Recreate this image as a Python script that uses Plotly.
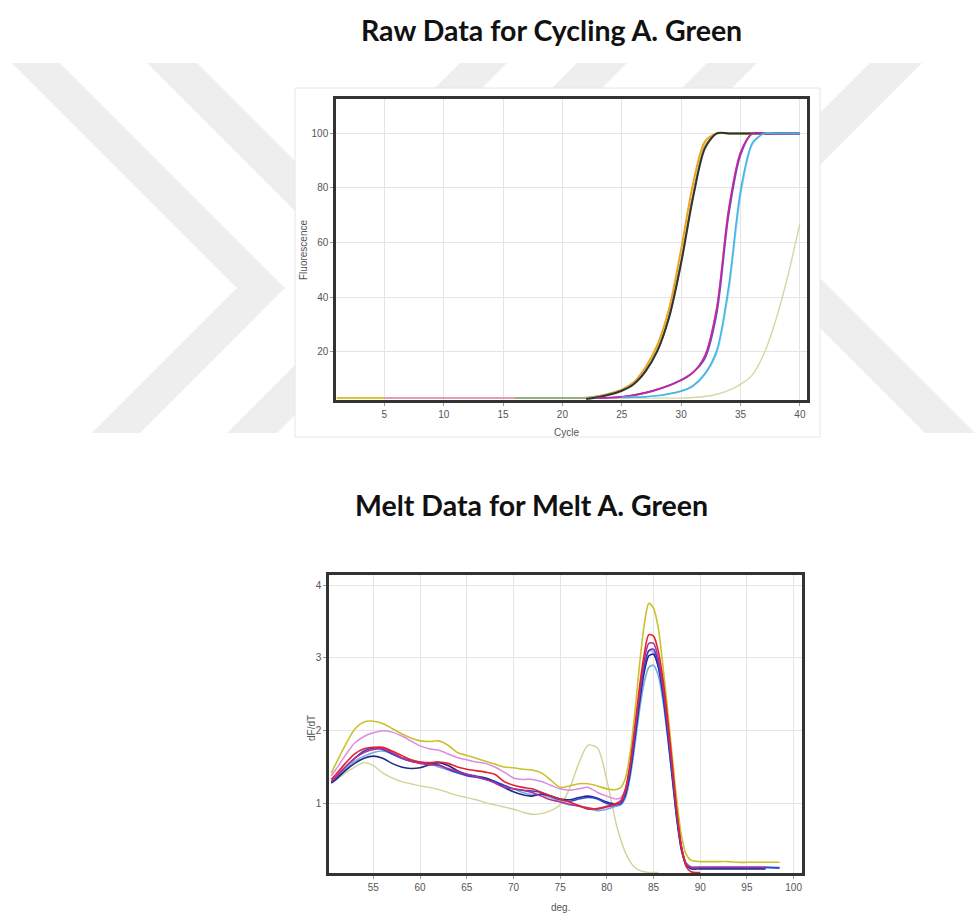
import plotly.graph_objects as go

W, H = 978, 916

# ---------------- Raw data (amplification) ----------------
cycles = list(range(1, 41))
N = None
amp_beige = [3.0]*29 + [3.0, 3.2, 3.6, 4.4, 5.8, 8.0, 11.5, 19.5, 32, 48, 67]
amp_orange = [3.0]*21 + [3.1, 3.7, 4.7, 6.1, 8.8, 14.3, 22.5, 36, 57.5, 81.5, 97] + [100]*8
amp_yellow = [3.0]*21 + [3.1, 3.6, 4.5, 5.8, 8.3, 13.3, 21, 33.5, 53.5, 77.5, 95.5] + [100]*8
amp_pink = [N]*4 + [3.0]*18 + [3.0, 3.1, 3.4, 4.0, 4.9, 6.2, 7.7, 9.6, 12.5, 18.5, 36, 72, 93] + [100]*5
amp_green = [N]*15 + [3.0]*7 + [3.6, 4.5, 5.8, 8.2, 13, 20.5, 33, 53, 77, 95] + [100]*8
amp_black = [N]*21 + [2.7, 3.3, 4.3, 5.7, 8.1, 12.8, 20.3, 32.8, 52.5, 76.5, 94.5] + [100]*8
amp_purple = [N]*22 + [3.0, 3.2, 3.5, 4.1, 5.0, 6.2, 7.7, 9.6, 12.4, 17.5, 34, 70, 92] + [100]*5
amp_magenta = [N]*22 + [3.0, 3.1, 3.4, 4.0, 4.9, 6.1, 7.6, 9.5, 12.3, 18.5, 36, 72, 93] + [100]*5
amp_lightblue = [N]*24 + [3.2, 3.3, 3.5, 3.8, 4.5, 5.5, 7.3, 11.5, 19.5, 42, 77, 96] + [100]*4
amp_cyan = [N]*24 + [3.2, 3.3, 3.5, 3.9, 4.6, 5.6, 7.6, 12, 20.5, 44, 79, 96.5] + [100]*4

amp_series = [
    ("beige", amp_beige, "#d9d4a6", 1.4),
    ("orange", amp_orange, "#f2a11f", 2.0),
    ("yellow", amp_yellow, "#d6cc35", 1.8),
    ("pink", amp_pink, "#e39ac6", 1.8),
    ("green", amp_green, "#8fb07c", 1.8),
    ("black", amp_black, "#333333", 2.0),
    ("purple", amp_purple, "#6a4cc0", 1.6),
    ("magenta", amp_magenta, "#c8249e", 1.6),
    ("lightblue", amp_lightblue, "#8fcbe6", 1.4),
    ("cyan", amp_cyan, "#3fb6e6", 1.5),
]
cycle_ticks = [5, 10, 15, 20, 25, 30, 35, 40]
fluor_ticks = [20, 40, 60, 80, 100]

# ---------------- Melt data ----------------
temps = [50.5, 51, 52, 53, 54, 55, 56, 57, 58, 59, 60, 61, 62, 63, 64, 65, 66, 67, 68, 69, 70,
         71, 72, 73, 74, 75, 76, 77, 78, 79, 80, 81, 81.5, 82, 82.5, 83, 83.5, 84, 84.5, 85,
         85.5, 86, 86.5, 87, 87.5, 88, 88.5, 89, 90, 91, 92, 93, 94, 95, 96, 97, 98.5]

melt_beige = [1.28, 1.32, 1.42, 1.5, 1.56, 1.52, 1.42, 1.35, 1.3, 1.27, 1.24, 1.22, 1.19, 1.15, 1.11,
              1.08, 1.05, 1.01, 0.98, 0.95, 0.92, 0.88, 0.85, 0.86, 0.9, 0.98, 1.2, 1.55, 1.8, 1.76,
              1.32, 0.72, 0.5, 0.32, 0.2, 0.12, 0.08, 0.06, 0.05, 0.05, 0.05,
              N, N, N, N, N, N, N, N, N, N, N, N, N, N, N, N]
melt_yellow = [1.42, 1.55, 1.8, 2.02, 2.12, 2.13, 2.1, 2.03, 1.96, 1.9, 1.86, 1.85, 1.86, 1.8, 1.7,
               1.66, 1.62, 1.58, 1.54, 1.5, 1.49, 1.47, 1.46, 1.42, 1.32, 1.22, 1.24, 1.27, 1.27, 1.24,
               1.2, 1.19, 1.22, 1.35, 1.7, 2.25, 2.9, 3.45, 3.75, 3.68, 3.42, 2.9, 2.3, 1.65, 1.04,
               0.55, 0.3, 0.22, 0.2, 0.2, 0.2, 0.2, 0.19, 0.19, 0.19, 0.19, 0.19]
melt_pink = [1.38, 1.47, 1.66, 1.83, 1.92, 1.97, 2.0, 1.98, 1.93, 1.86, 1.79, 1.75, 1.73, 1.68, 1.63,
             1.6, 1.57, 1.55, 1.5, 1.43, 1.35, 1.33, 1.33, 1.3, 1.25, 1.2, 1.18, 1.2, 1.22, 1.15,
             1.1, 1.06, 1.08, 1.2, 1.52, 2.0, 2.5, 2.9, 3.1, 3.08, 2.88, 2.5, 1.98, 1.4, 0.82,
             0.4, 0.18, 0.13, 0.12, 0.12, 0.12, 0.12, 0.12, 0.12, 0.12, 0.12, N]
melt_lightblue = [1.3, 1.35, 1.47, 1.58, 1.65, 1.7, 1.72, 1.68, 1.63, 1.6, 1.57, 1.55, 1.5, 1.46, 1.42,
                  1.4, 1.38, 1.35, 1.3, 1.24, 1.2, 1.15, 1.12, 1.12, 1.08, 1.02, 0.98, 0.97, 0.93, 0.9,
                  0.92, 0.96, 0.98, 1.08, 1.36, 1.8, 2.28, 2.66, 2.87, 2.9, 2.76, 2.42, 1.92, 1.35, 0.78,
                  0.37, 0.18, 0.13, 0.12, 0.12, 0.12, 0.12, 0.12, 0.12, 0.12, 0.12, 0.12]
melt_navy = [1.28, 1.33, 1.45, 1.55, 1.62, 1.65, 1.62, 1.55, 1.5, 1.48, 1.49, 1.53, 1.56, 1.52, 1.45,
             1.4, 1.37, 1.35, 1.3, 1.22, 1.16, 1.12, 1.1, 1.13, 1.1, 1.06, 1.05, 1.08, 1.1, 1.07,
             1.02, 0.99, 1.0, 1.12, 1.42, 1.88, 2.38, 2.8, 3.03, 3.05, 2.88, 2.5, 1.96, 1.37, 0.78,
             0.35, 0.15, 0.1, 0.1, 0.1, 0.1, 0.1, 0.1, 0.1, 0.1, 0.1, N]
melt_blue = [1.3, 1.36, 1.5, 1.62, 1.72, 1.76, 1.74, 1.68, 1.62, 1.58, 1.56, 1.55, 1.53, 1.47, 1.42,
             1.38, 1.36, 1.33, 1.3, 1.25, 1.2, 1.18, 1.17, 1.15, 1.1, 1.05, 1.03, 1.06, 1.08, 1.06,
             1.0, 0.98, 1.0, 1.14, 1.46, 1.93, 2.45, 2.88, 3.1, 3.12, 2.93, 2.56, 2.02, 1.42, 0.82,
             0.38, 0.16, 0.12, 0.12, 0.12, 0.12, 0.12, 0.12, 0.12, 0.12, 0.12, 0.11]
melt_magenta = [1.3, 1.37, 1.5, 1.62, 1.7, 1.74, 1.75, 1.7, 1.63, 1.58, 1.55, 1.53, 1.52, 1.48, 1.44,
                1.4, 1.37, 1.33, 1.28, 1.22, 1.2, 1.18, 1.15, 1.1, 1.05, 1.02, 0.99, 0.96, 0.94, 0.92,
                0.95, 0.98, 1.02, 1.18, 1.52, 2.0, 2.52, 2.96, 3.2, 3.2, 3.0, 2.62, 2.08, 1.48, 0.86,
                0.4, 0.17, 0.12, 0.12, 0.12, 0.12, 0.12, 0.12, 0.12, 0.12, 0.12, N]
melt_red = [1.33, 1.4, 1.55, 1.68, 1.75, 1.77, 1.77, 1.72, 1.66, 1.6, 1.57, 1.56, 1.57, 1.55, 1.5,
            1.47, 1.45, 1.43, 1.4, 1.3, 1.25, 1.22, 1.2, 1.15, 1.1, 1.06, 1.02, 0.97, 0.92, 0.93,
            0.96, 1.0, 1.04, 1.2, 1.55, 2.05, 2.6, 3.05, 3.32, 3.3, 3.1, 2.72, 2.18, 1.55, 0.9,
            0.4, 0.13, 0.06, 0.05, N, N, N, N, N, N, N, N]

melt_series = [
    ("beige", melt_beige, "#d6d09a", 1.4),
    ("yellow", melt_yellow, "#c9c22c", 1.6),
    ("pink", melt_pink, "#de8ae0", 1.5),
    ("lightblue", melt_lightblue, "#6faee0", 1.6),
    ("navy", melt_navy, "#1f2a86", 1.6),
    ("blue", melt_blue, "#2f44d8", 1.6),
    ("magenta", melt_magenta, "#b82c96", 1.5),
    ("red", melt_red, "#e3222c", 1.6),
]
deg_ticks = [55, 60, 65, 70, 75, 80, 85, 90, 95, 100]
dfdt_ticks = [1, 2, 3, 4]

fig = go.Figure()
for name, ys, col, lw in amp_series:
    fig.add_trace(go.Scatter(x=cycles, y=ys, mode="lines", name=name, xaxis="x", yaxis="y",
                             line=dict(color=col, width=lw, shape="spline", smoothing=0.8),
                             connectgaps=False, showlegend=False, hoverinfo="skip"))
for name, ys, col, lw in melt_series:
    fig.add_trace(go.Scatter(x=temps, y=ys, mode="lines", name=name, xaxis="x2", yaxis="y2",
                             line=dict(color=col, width=lw, shape="spline", smoothing=0.8),
                             connectgaps=False, showlegend=False, hoverinfo="skip"))


def px(x):
    return x / W


def py(y):
    return 1 - y / H


def poly(points):
    return "M " + " L ".join(f"{px(x):.5f},{py(y):.5f}" for x, y in points) + " Z"


wm = "#eeeeee"
watermark = [
    [(12, 63), (60, 63), (285, 288), (140, 433), (92, 433), (237, 288)],
    [(147, 63), (197, 63), (422, 288), (277, 433), (227, 433), (372, 288)],
    [(460, 63), (507, 63), (420, 150), (373, 150)],
    [(577, 63), (627, 63), (540, 150), (490, 150)],
    [(707, 63), (757, 63), (670, 150), (620, 150)],
    [(870, 63), (922, 63), (685, 300), (633, 300)],
    [(742, 250), (792, 250), (975, 433), (925, 433)],
]
shapes = []
for pts in watermark:
    shapes.append(dict(type="path", xref="paper", yref="paper", path=poly(pts),
                       fillcolor=wm, line=dict(width=0), layer="below"))
shapes.append(dict(type="rect", xref="paper", yref="paper", x0=px(295), x1=px(820),
                   y0=py(437), y1=py(88), fillcolor="white",
                   line=dict(color="#e6e6e6", width=1), layer="below"))

axis_common = dict(showgrid=True, gridcolor="#e4e4e4", gridwidth=1, zeroline=False,
                   showline=True, linecolor="#333333", linewidth=2.5, mirror=True,
                   ticks="outside", ticklen=3, tickcolor="#999999",
                   tickfont=dict(family="Liberation Sans", size=10, color="#555555"))

fig.update_layout(
    width=W, height=H, margin=dict(l=0, r=0, t=0, b=0),
    paper_bgcolor="white", plot_bgcolor="rgba(0,0,0,0)",
    shapes=shapes,
    xaxis=dict(domain=[px(336), px(807)], anchor="y", range=[0.93, 40.6], tickvals=cycle_ticks, **axis_common),
    yaxis=dict(domain=[py(400), py(99)], anchor="x", range=[2.3, 112.6], tickvals=fluor_ticks, **axis_common),
    xaxis2=dict(domain=[px(329), px(802)], anchor="y2", range=[50.25, 100.9], tickvals=deg_ticks, **axis_common),
    yaxis2=dict(domain=[py(873), py(575)], anchor="x2", range=[0.043, 4.14], tickvals=dfdt_ticks, **axis_common),
    annotations=[
        dict(text="<b>Raw Data for Cycling A. Green</b>", x=px(551), y=py(30), xref="paper", yref="paper",
             showarrow=False, xanchor="center", yanchor="middle",
             font=dict(family="Lato", size=28.5, color="#111111")),
        dict(text="<b>Melt Data for Melt A. Green</b>", x=px(531), y=py(505), xref="paper", yref="paper",
             showarrow=False, xanchor="center", yanchor="middle",
             font=dict(family="Lato", size=28.5, color="#111111")),
        dict(text="Cycle", x=px(566), y=py(433), xref="paper", yref="paper", showarrow=False,
             xanchor="center", yanchor="middle", font=dict(family="Liberation Sans", size=10, color="#555555")),
        dict(text="Fluorescence", x=px(303), y=py(250), xref="paper", yref="paper", showarrow=False, textangle=-90,
             xanchor="center", yanchor="middle", font=dict(family="Liberation Sans", size=10, color="#555555")),
        dict(text="deg.", x=px(560), y=py(907), xref="paper", yref="paper", showarrow=False,
             xanchor="center", yanchor="middle", font=dict(family="Liberation Sans", size=10, color="#555555")),
        dict(text="dF/dT", x=px(311), y=py(728), xref="paper", yref="paper", showarrow=False, textangle=-90,
             xanchor="center", yanchor="middle", font=dict(family="Liberation Sans", size=10, color="#555555")),
    ],
)

fig.write_html("out.html")
